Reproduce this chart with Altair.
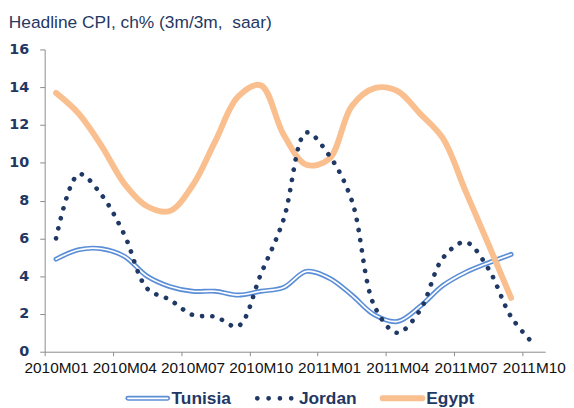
import altair as alt
import pandas as pd

months = ["2010M01", "2010M02", "2010M03", "2010M04", "2010M05", "2010M06",
          "2010M07", "2010M08", "2010M09", "2010M10", "2010M11", "2010M12",
          "2011M01", "2011M02", "2011M03", "2011M04", "2011M05", "2011M06",
          "2011M07", "2011M08", "2011M09", "2011M10"]
tick_labels = ["2010M01", "2010M04", "2010M07", "2010M10",
               "2011M01", "2011M04", "2011M07", "2011M10"]

series_names = ["Tunisia", "Jordan", "Egypt"]

tunisia = [4.9, 5.4, 5.45, 5.05, 4.0, 3.45, 3.2, 3.2, 3.0, 3.2, 3.4,
           4.25, 3.9, 3.0, 1.95, 1.6, 2.4, 3.5, 4.2, 4.7, 5.15]
jordan = [6.0, 9.4, 8.3, 6.2, 3.35, 2.75, 1.95, 1.85, 1.35, 4.1, 7.0,
          11.6, 10.4, 8.0, 2.4, 1.0, 2.2, 4.95, 5.8, 4.4, 1.85, 0.4]
egypt = [13.7, 12.6, 10.9, 8.9, 7.7, 7.45, 8.8, 11.15, 13.5, 14.1, 11.5,
         9.9, 10.2, 13.0, 13.95, 13.8, 12.6, 11.3, 8.5, 5.7, 2.85]

rows = []
for name, vals in zip(series_names, [tunisia, jordan, egypt]):
    for m, v in zip(months, vals):
        rows.append({"series": name, "month": m, "value": v})
df = pd.DataFrame(rows)

NAVY = "#1F3864"
BLUE = "#5B8ED6"
ORANGE = "#FABF8F"
AXIS = "#8C8C8C"
FONT = "Liberation Sans"

W = 505
H = 305
step = W / len(months)

x_enc = alt.X(
    "month:O",
    scale=alt.Scale(type="point", padding=0.5, domain=months),
    axis=alt.Axis(
        values=tick_labels, title=None, labelAngle=0,
        tickOffset=-step / 2, labelOffset=step / 2,
        labelFont=FONT, labelFontSize=15.5, labelColor="#111111",
        labelOverlap=False, labelBound=False, labelPadding=5,
        tickSize=4, tickColor=AXIS, domainColor=AXIS, grid=False,
    ),
)
y_enc = alt.Y(
    "value:Q",
    scale=alt.Scale(domain=[0, 16], nice=False, zero=True),
    axis=alt.Axis(
        values=list(range(0, 17, 2)), title=None, grid=False,
        labelFont="DejaVu Sans", labelFontSize=14.5, labelFontWeight="bold",
        labelColor=NAVY, labelPadding=11, tickSize=5,
        tickColor=AXIS, domainColor=AXIS,
    ),
)

base = alt.Chart(df).encode(x=x_enc, y=y_enc)

def sel(name):
    return base.transform_filter(alt.datum.series == name)

tun_outer = sel("Tunisia").mark_line(interpolate="catmull-rom", color=BLUE,
                                     strokeWidth=5, strokeCap="round")
tun_inner = sel("Tunisia").mark_line(interpolate="catmull-rom", color="white",
                                     strokeWidth=1.7, strokeCap="round")
egy = sel("Egypt").mark_line(interpolate="catmull-rom", color=ORANGE,
                             strokeWidth=6, strokeCap="round")
jor = sel("Jordan").mark_line(interpolate="catmull-rom", color=NAVY,
                              strokeWidth=4.7, strokeDash=[0.1, 10.3],
                              strokeCap="round")

main = alt.layer(tun_outer, tun_inner, egy, jor).properties(
    width=W, height=H,
    title=alt.Title("Headline CPI, ch% (3m/3m,\u00a0 saar)", anchor="start",
                    font=FONT, fontSize=17.5, fontWeight="normal", color=NAVY,
                    offset=10),
)

leg_df = pd.DataFrame({"series": series_names})
leg_x = alt.X("series:N", scale=alt.Scale(type="point", padding=0,
                                          domain=series_names,
                                          range=[82, 339]), axis=None)
lbase = alt.Chart(leg_df).encode(x=leg_x, x2=alt.X2("series"), y=alt.value(10))

def lsel(name):
    return lbase.transform_filter(alt.datum.series == name)

l_tun_o = lsel("Tunisia").mark_rule(color=BLUE, strokeWidth=5, strokeCap="round",
                                    xOffset=2, x2Offset=42)
l_tun_i = lsel("Tunisia").mark_rule(color="white", strokeWidth=1.7, strokeCap="round",
                                    xOffset=2, x2Offset=42)
l_jor = lsel("Jordan").mark_rule(color=NAVY, strokeWidth=4.7, strokeDash=[0.1, 11.3],
                                 strokeCap="round", xOffset=4, x2Offset=39)
l_egy = lsel("Egypt").mark_rule(color=ORANGE, strokeWidth=6, strokeCap="round",
                                xOffset=2, x2Offset=42)
l_txt = alt.Chart(leg_df).mark_text(align="left", baseline="alphabetic", dx=46,
                                    font=FONT, fontSize=17.5, fontWeight="bold",
                                    color=NAVY).encode(
    x=leg_x, y=alt.value(16), text="series:N")

legend = alt.layer(l_tun_o, l_tun_i, l_jor, l_egy, l_txt).properties(width=W, height=20)

chart = alt.vconcat(main, legend, spacing=12).properties(
    padding={"left": 0, "top": 4, "right": 0, "bottom": 0}
).configure_view(stroke=None)

chart.save("out.html", embed_options={"renderer": "svg", "actions": False})
